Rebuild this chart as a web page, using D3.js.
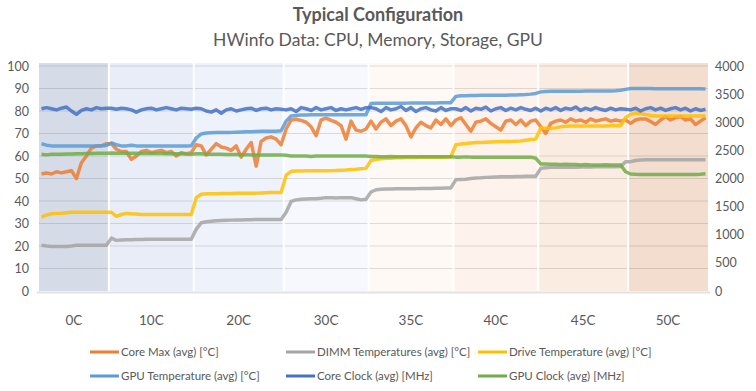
<!DOCTYPE html>
<html>
<head>
<meta charset="utf-8">
<script src="https://cdnjs.cloudflare.com/ajax/libs/d3/7.8.5/d3.min.js"></script>
<style>
body { margin: 0; background: #fff; }
svg { font-family: Lato, "Open Sans", sans-serif; }
</style>
</head>
<body>
<svg id="chart" width="756" height="391"></svg>
<script>
// ambient temp of each run + how many samples hwinfo logged per run
var tests = ['0C', '10C', '20C', '30C', '35C', '40C', '45C', '50C'];
var samplesPerTest = [14, 17, 18, 17, 17, 17, 18, 16];
var bandColors = ['#D6DCE7', '#E8EDF7', '#EEF2FA', '#F6F8FD', '#FEF9F5', '#FDF3EC', '#FBECE2', '#F2DDCF'];

var tempTicks = [0, 10, 20, 30, 40, 50, 60, 70, 80, 90, 100];
var clockTicks = [0, 500, 1000, 1500, 2000, 2500, 3000, 3500, 4000];

// [°C]
var coreMax = [
  52, 52.5, 52, 53, 52.5, 53, 53.5, 50, 57, 60, 63.5, 64.5, 64.5, 65.5,
  65.5, 63, 62, 62, 58.5, 60, 62, 62.5, 61.5, 62, 62.5, 61.5, 62, 60, 61.5, 61, 61.5,
  65, 64.5, 60.5, 63, 65.5, 64, 63.5, 62.5, 64.5, 59.5, 63, 66, 55.5, 66.5, 68, 68.5, 67.5, 65,
  72, 76, 76.3, 75.8, 75, 73, 69, 76, 76.8, 75.8, 75, 73.5, 67.5, 75.5, 71.5, 71, 72,
  75.5, 72, 75, 76.5, 73.5, 75.5, 76.5, 73.5, 68.5, 72.5, 75, 73.5, 72.5, 76, 74, 76.5, 73.5,
  76, 77, 74, 71, 75, 75.5, 76.5, 74.5, 73, 71.5, 75.5, 76, 74, 76, 73.5, 75.5, 76,
  73, 70, 74.5, 75.5, 76, 75, 76.5, 75.5, 76, 75, 76.5, 75.5, 76, 76.5, 75.5, 76, 75.5, 76,
  74.5, 76, 76.5, 76.5, 75.3, 74, 76, 77.5, 76, 77, 77.5, 76, 76.5, 74, 75.5, 77
];
var dimmTemp = [
  20.3, 20, 19.8, 19.8, 19.8, 19.8, 20, 20.3, 20.3, 20.3, 20.3, 20.3, 20.3, 20.3,
  23.5, 22.5, 22.7, 22.8, 22.8, 22.9, 22.9, 23, 23, 23, 23, 23, 23, 23, 23, 23, 23,
  27.5, 30.3, 30.8, 31, 31.2, 31.3, 31.4, 31.5, 31.6, 31.6, 31.7, 31.7, 31.8, 31.8, 31.8, 31.8, 31.8, 31.8,
  35, 39.8, 40.5, 40.8, 40.9, 41, 41, 41.2, 41.5, 41.5, 41.3, 41.5, 41.5, 41.5, 41, 40.5, 40.8,
  44, 45, 45.2, 45.3, 45.3, 45.4, 45.4, 45.5, 45.5, 45.5, 45.6, 45.6, 45.6, 45.7, 45.7, 45.8, 45.8,
  49.5, 49.6, 49.7, 50, 50.2, 50.3, 50.5, 50.6, 50.7, 50.8, 50.8, 50.8, 50.9, 50.9, 51, 51, 51,
  54.5, 54.8, 55, 55, 55, 55, 55, 55, 55.1, 55.1, 55.1, 55.2, 55.2, 55.2, 55.2, 55.2, 55.3, 57.5,
  57.5, 58, 58.2, 58.3, 58.3, 58.3, 58.3, 58.3, 58.3, 58.3, 58.3, 58.3, 58.3, 58.3, 58.3, 58.3
];
var driveTemp = [
  32.8, 33.8, 34.3, 34.5, 34.6, 34.8, 35, 35, 35, 35, 35, 35, 35, 35,
  35, 33.2, 34, 34.5, 34.3, 34.2, 34, 34, 34, 34, 34, 34, 34, 34, 34, 34, 34,
  41.5, 43, 43.2, 43.2, 43.2, 43.3, 43.3, 43.3, 43.4, 43.4, 43.5, 43.5, 43.5, 43.6, 43.7, 43.8, 43.8, 43.8,
  51.5, 53.2, 53.3, 53.3, 53.4, 53.4, 53.4, 53.5, 53.5, 53.5, 53.6, 53.7, 53.8, 54, 54.1, 54.3, 54.5,
  58, 58.5, 58.8, 59, 59, 59.2, 59.2, 59.3, 59.3, 59.3, 59.4, 59.4, 59.5, 59.5, 59.5, 59.5, 59.6,
  65, 65.3, 65.6, 65.8, 66, 66, 66.1, 66.2, 66.3, 66.4, 66.5, 66.5, 66.6, 66.7, 67, 67.3, 67.5,
  72.5, 72.3, 72.3, 72.5, 73, 73.2, 73.3, 73.3, 73.3, 73.3, 73.3, 73.3, 73.3, 73.3, 73.4, 73.5, 73.5, 77,
  78.5, 79, 78.8, 78.5, 78, 77.8, 77.8, 77.8, 77.8, 77.8, 77.8, 77.8, 77.8, 77.8, 77.8, 77.8
];
var gpuTemp = [
  65.5, 64.8, 64.5, 64.5, 64.5, 64.5, 64.5, 64.5, 64.5, 64.5, 64.5, 64.5, 64.6, 64.7,
  65.8, 65, 64.5, 64.5, 64.8, 64.5, 64.5, 64.5, 64.4, 64.4, 64.4, 64.4, 64.4, 64.4, 64.4, 64.4, 64.5,
  68, 69.8, 70.2, 70.3, 70.4, 70.5, 70.5, 70.5, 70.6, 70.7, 70.8, 70.8, 70.9, 71, 71, 71, 71, 71.2,
  75.5, 77.8, 78, 78.2, 78.2, 78.3, 78.3, 78.3, 78.3, 78.3, 78.3, 78.3, 78.3, 78.3, 78.3, 78.3, 78.3,
  83.3, 83.4, 83.4, 83.5, 83.5, 83.5, 83.5, 83.5, 83.6, 83.6, 83.6, 83.6, 83.6, 83.6, 83.7, 83.7, 83.7,
  86.5, 86.8, 86.8, 86.9, 86.9, 87, 87, 87, 87, 87, 87, 87.1, 87.1, 87.2, 87.3, 87.5, 87.8,
  88.5, 88.7, 88.8, 88.8, 88.8, 88.8, 88.8, 88.8, 88.8, 88.9, 88.9, 88.9, 88.9, 88.9, 88.9, 89, 89.2, 89.6,
  90, 90, 90, 90, 90, 89.9, 89.9, 89.9, 89.9, 89.9, 89.9, 89.9, 89.9, 89.9, 89.9, 89.8
];
// [MHz] - right axis
var coreClock = [
  3240, 3260, 3240, 3220, 3250, 3270, 3200, 3140, 3210, 3240, 3220, 3260, 3240, 3250,
  3250, 3230, 3250, 3240, 3220, 3180, 3220, 3240, 3250, 3220, 3240, 3260, 3240, 3220, 3250, 3240, 3230,
  3250, 3240, 3200, 3180, 3220, 3160, 3220, 3240, 3200, 3220, 3240, 3250, 3210, 3240, 3250, 3220, 3240, 3230,
  3220, 3240, 3190, 3260, 3240, 3210, 3260, 3220, 3240, 3260, 3210, 3240, 3220, 3240, 3260, 3230, 3260,
  3260, 3240, 3190, 3260, 3220, 3240, 3280, 3210, 3260, 3190, 3240, 3260, 3220, 3200, 3260, 3210, 3240,
  3240, 3210, 3260, 3200, 3250, 3230, 3270, 3200, 3240, 3260, 3210, 3250, 3220, 3260, 3230, 3210, 3250,
  3200, 3250, 3220, 3260, 3210, 3250, 3230, 3270, 3210, 3250, 3220, 3260, 3230, 3210, 3250, 3220, 3240, 3230,
  3220, 3250, 3200, 3240, 3260, 3220, 3250, 3210, 3240, 3260, 3220, 3250, 3200, 3240, 3210, 3230
];
var gpuClock = [
  2430, 2420, 2430, 2430, 2430, 2435, 2435, 2440, 2440, 2445, 2445, 2450, 2450, 2450,
  2455, 2450, 2450, 2450, 2448, 2448, 2445, 2445, 2445, 2445, 2445, 2442, 2440, 2440, 2440, 2435, 2432,
  2440, 2440, 2432, 2432, 2430, 2432, 2425, 2425, 2425, 2422, 2422, 2420, 2420, 2420, 2420, 2420, 2420, 2420,
  2412, 2400, 2400, 2400, 2400, 2392, 2400, 2400, 2400, 2400, 2398, 2400, 2400, 2400, 2400, 2400, 2400,
  2390, 2390, 2388, 2388, 2390, 2388, 2388, 2385, 2388, 2388, 2385, 2388, 2388, 2385, 2388, 2388, 2385,
  2380, 2380, 2382, 2380, 2380, 2378, 2380, 2380, 2380, 2378, 2380, 2380, 2380, 2378, 2380, 2380, 2360,
  2260, 2260, 2252, 2252, 2248, 2252, 2248, 2248, 2240, 2248, 2240, 2240, 2240, 2244, 2240, 2240, 2240, 2120,
  2080, 2075, 2072, 2072, 2070, 2072, 2070, 2072, 2070, 2070, 2072, 2070, 2070, 2072, 2075, 2085
];

var series = [
  { name: 'Core Max (avg) [°C]', values: coreMax, color: '#ED7D31', axis: 'L' },
  { name: 'DIMM Temperatures (avg) [°C]', values: dimmTemp, color: '#A5A5A5', axis: 'L' },
  { name: 'Drive Temperature (avg) [°C]', values: driveTemp, color: '#FFC000', axis: 'L' },
  { name: 'GPU Temperature (avg) [°C]', values: gpuTemp, color: '#5B9BD5', axis: 'L' },
  { name: 'Core Clock (avg) [MHz]', values: coreClock, color: '#4472C4', axis: 'R' },
  { name: 'GPU Clock (avg) [MHz]', values: gpuClock, color: '#70AD47', axis: 'R' }
];

var textColor = '#595959';
var svg = d3.select('#chart');

var total = d3.sum(samplesPerTest);
var starts = [];
var acc = 0;
samplesPerTest.forEach(function(n){ starts.push(acc); acc += n; });

var x = d3.scaleLinear().domain([0, total]).range([39, 708]);
var yL = d3.scaleLinear().domain([0, 100]).range([291, 66]);
var yR = d3.scaleLinear().domain([0, 4000]).range([291, 66]);

// titles
svg.append('text').attr('x', 378).attr('y', 21).attr('text-anchor', 'middle')
  .attr('font-size', 18).attr('font-weight', 'bold').attr('fill', textColor)
  .text('Typical Configuration');
svg.append('text').attr('x', 378).attr('y', 46).attr('text-anchor', 'middle')
  .attr('font-size', 17.5).attr('fill', textColor)
  .text('HWinfo Data: CPU, Memory, Storage, GPU');

// background bands, one per run
svg.append('g').selectAll('rect').data(tests).enter().append('rect')
  .attr('x', function(d, i){ return x(starts[i]); })
  .attr('width', function(d, i){ return x(starts[i] + samplesPerTest[i]) - x(starts[i]); })
  .attr('y', yL(101.3))
  .attr('height', yL(0) - yL(101.3))
  .attr('fill', function(d, i){ return bandColors[i]; });

// gridlines
svg.append('g').selectAll('line').data(tempTicks.slice(1)).enter().append('line')
  .attr('x1', x(0)).attr('x2', x(total))
  .attr('y1', function(d){ return yL(d); }).attr('y2', function(d){ return yL(d); })
  .attr('stroke', '#000').attr('stroke-opacity', 0.12).attr('stroke-width', 1);

// white gaps between bands
svg.append('g').selectAll('line').data(starts.slice(1)).enter().append('line')
  .attr('x1', function(d){ return x(d); }).attr('x2', function(d){ return x(d); })
  .attr('y1', yL(101.3)).attr('y2', yL(0))
  .attr('stroke', '#fff').attr('stroke-width', 2);

// bottom axis line
svg.append('line').attr('x1', x(0) - 2).attr('x2', x(total) + 2)
  .attr('y1', yL(0) + 1.5).attr('y2', yL(0) + 1.5)
  .attr('stroke', '#E2E2E2').attr('stroke-width', 2);

var leftAxis = svg.append('g').attr('transform', 'translate(' + x(0) + ',0)')
  .call(d3.axisLeft(yL).tickValues(tempTicks).tickSize(0).tickPadding(10));
var rightAxis = svg.append('g').attr('transform', 'translate(' + x(total) + ',0)')
  .call(d3.axisRight(yR).tickValues(clockTicks).tickFormat(d3.format('d')).tickSize(0).tickPadding(7));
[leftAxis, rightAxis].forEach(function(a){
  a.select('.domain').remove();
  a.selectAll('text').attr('fill', textColor).attr('font-size', 12.5)
    .style('font-family', 'Lato, "Open Sans", sans-serif');
});

// category labels under each run
svg.append('g').selectAll('text').data(tests).enter().append('text')
  .attr('x', function(d, i){ return x(starts[i] + samplesPerTest[i] / 2); })
  .attr('y', 325)
  .attr('text-anchor', 'middle').attr('font-size', 13.5).attr('fill', textColor)
  .text(function(d){ return d; });

// the lines
var lines = svg.append('g');
series.forEach(function(s){
  var yScale = s.axis === 'R' ? yR : yL;
  var line = d3.line()
    .x(function(d, i){ return x(i + 0.5); })
    .y(function(d){ return yScale(d); });
  lines.append('path').datum(s.values)
    .attr('d', line)
    .attr('fill', 'none')
    .attr('stroke', s.color)
    .attr('stroke-opacity', 0.85)
    .attr('stroke-width', 3.5)
    .attr('stroke-linejoin', 'round');
});

// legend, 3 columns x 2 rows
var legCols = [90, 286, 478];
var legRows = [352, 376];
var legend = svg.append('g').selectAll('g').data(series).enter().append('g')
  .attr('transform', function(d, i){
    return 'translate(' + legCols[i % 3] + ',' + legRows[Math.floor(i / 3)] + ')';
  });
legend.append('line').attr('x1', 0).attr('x2', 29).attr('y1', 0).attr('y2', 0)
  .attr('stroke', function(d){ return d.color; }).attr('stroke-width', 3);
legend.append('text').attr('x', 31).attr('y', 4).attr('font-size', 11.5)
  .attr('fill', textColor).text(function(d){ return d.name; });
</script>
</body>
</html>
